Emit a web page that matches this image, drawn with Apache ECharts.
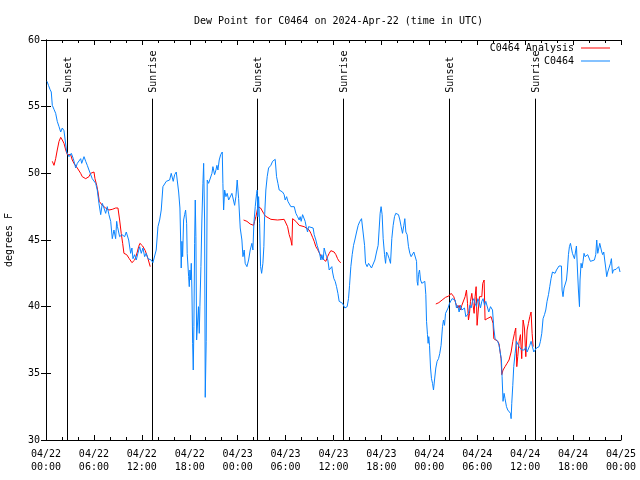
<!DOCTYPE html>
<html>
<head>
<meta charset="utf-8">
<script src="https://cdn.jsdelivr.net/npm/echarts@6/dist/echarts.min.js"></script>
<style>html,body{margin:0;padding:0;background:#fff}#c{width:640px;height:480px}</style>
</head>
<body>
<div id="c"></div>
<script>
// hours since 2024-04-22 00:00 UTC
const blueHours = [0.13,0.31,0.5,0.66,0.79,1.0,1.21,1.41,1.63,1.84,2.04,2.25,2.47,2.59,2.88,3.17,3.42,3.72,3.92,4.13,4.34,4.47,4.76,4.97,5.17,5.38,5.79,6.22,6.42,6.63,6.85,7.05,7.26,7.47,7.67,7.88,8.1,8.3,8.51,8.72,8.85,8.95,9.22,9.42,9.51,9.85,10.05,10.35,10.6,10.76,10.89,11.1,11.3,11.51,11.73,11.93,12.14,12.35,12.55,12.77,12.98,13.18,13.39,13.6,13.8,14.02,14.23,14.43,14.64,14.86,15.06,15.27,15.48,15.68,15.81,15.93,16.11,16.31,16.43,16.61,16.77,16.86,16.93,17.02,17.11,17.23,17.36,17.48,17.61,17.68,17.86,17.94,18.02,18.11,18.19,18.27,18.36,18.44,18.52,18.61,18.69,18.77,18.86,18.96,19.09,19.19,19.27,19.4,19.52,19.65,19.74,19.86,19.94,20.06,20.19,20.36,20.56,20.78,20.9,21.11,21.28,21.4,21.53,21.69,21.87,22.07,22.15,22.24,22.37,22.53,22.69,22.87,23.07,23.28,23.49,23.62,23.78,23.94,24.12,24.32,24.53,24.66,24.82,24.94,25.16,25.37,25.57,25.78,25.91,26.03,26.2,26.37,26.45,26.53,26.62,26.75,26.87,27.0,27.16,27.28,27.37,27.53,27.7,27.87,28.16,28.37,28.57,28.7,28.87,29.04,29.2,29.41,29.62,29.82,29.95,30.13,30.29,30.45,30.66,30.87,31.08,31.29,31.5,31.7,31.83,31.95,32.13,32.33,32.45,32.58,32.75,32.88,33.04,33.45,33.58,33.79,33.95,34.13,34.29,34.42,34.54,34.71,34.83,34.96,35.13,35.29,35.46,35.63,35.79,35.88,36.05,36.21,36.38,36.55,36.71,36.88,37.13,37.42,37.71,37.88,38.01,38.17,38.34,38.51,38.67,38.89,39.09,39.3,39.51,39.71,39.89,40.01,40.21,40.39,40.55,40.76,40.96,41.18,41.39,41.59,41.71,41.84,41.96,42.09,42.22,42.39,42.52,42.64,42.8,42.97,43.14,43.3,43.47,43.64,43.8,43.97,44.14,44.31,44.47,44.64,44.81,44.93,45.06,45.22,45.39,45.56,45.72,45.9,46.06,46.22,46.4,46.47,46.56,46.64,46.77,46.9,47.06,47.22,47.43,47.56,47.65,47.77,47.85,47.93,48.02,48.15,48.27,48.4,48.52,48.65,48.81,48.97,49.15,49.31,49.47,49.65,49.77,49.9,50.03,50.19,50.35,50.53,50.69,50.85,51.06,51.23,51.4,51.56,51.73,51.9,52.07,52.23,52.4,52.57,52.73,52.9,53.07,53.23,53.4,53.57,53.73,53.9,54.07,54.23,54.4,54.57,54.73,54.91,55.07,55.24,55.44,55.66,55.91,56.07,56.23,56.41,56.57,56.73,56.91,57.03,57.11,57.23,57.36,57.48,57.66,57.82,57.98,58.16,58.24,58.32,58.45,58.57,58.74,58.91,59.07,59.24,59.41,59.57,59.91,60.08,60.24,60.41,60.58,60.74,60.91,61.08,61.24,61.41,61.58,61.74,61.91,62.08,62.24,62.42,62.58,62.74,62.92,63.08,63.24,63.42,63.58,63.74,63.92,64.08,64.24,64.54,64.62,64.74,64.87,65.04,65.17,65.29,65.42,65.54,65.67,65.79,65.92,66.05,66.17,66.3,66.42,66.55,66.67,66.8,66.87,67.0,67.12,67.25,67.37,67.5,67.67,67.83,68.0,68.17,68.34,68.67,68.84,68.96,69.09,69.21,69.34,69.46,69.59,69.71,69.84,69.96,70.09,70.21,70.34,70.5,70.68,70.8,70.93,71.05,71.21,71.38,71.55,71.71,71.88];
const blueValues = [56.9,56.6,56.3,56.1,55.1,54.8,54.5,53.9,53.5,53.1,53.4,53.2,53.1,51.6,51.25,51.5,51.1,50.4,50.75,50.9,51.1,50.75,51.25,50.9,50.6,50.25,49.6,49.25,48.75,47.75,46.9,47.75,47.4,47.0,47.5,46.9,46.4,45.1,45.75,45.1,46.4,46.0,45.25,45.4,45.4,45.25,45.6,45.0,44.0,44.4,43.6,43.9,43.5,44.0,44.5,44.0,44.4,43.75,44.0,43.6,43.75,43.5,43.3,43.3,44.25,46.0,46.5,47.25,49.0,48.9,49.4,49.4,49.5,50.0,50.1,49.4,49.9,50.1,49.5,48.6,47.4,45.0,42.9,44.9,43.75,46.5,46.9,47.25,46.25,44.0,42.25,41.5,42.75,42.0,43.25,41.25,37.25,35.25,38.5,44.75,48.0,45.25,37.5,37.6,40.0,38.0,40.0,43.0,46.5,49.25,50.75,46.5,33.2,37.4,49.5,49.25,49.25,50.0,50.5,49.9,50.25,50.6,50.25,51.0,51.4,51.6,49.25,47.25,48.75,48.25,48.5,48.0,47.9,48.5,48.6,47.6,48.25,49.5,48.1,45.9,45.0,43.75,44.25,43.25,43.0,43.5,44.25,44.75,44.25,46.25,47.5,48.5,48.75,46.75,48.25,46.25,43.0,42.5,43.25,44.5,46.75,48.75,49.75,50.4,50.6,50.9,51.05,51.05,49.75,49.25,48.75,48.6,48.6,48.4,48.0,48.25,47.9,47.75,47.5,47.4,47.5,47.0,46.75,46.5,46.75,46.4,46.9,46.75,46.4,46.0,45.6,46.0,45.9,45.9,45.4,45.0,44.6,44.25,43.9,43.5,43.9,43.5,44.4,44.1,43.75,43.5,42.75,42.6,43.0,42.6,42.1,41.9,41.5,41.0,40.4,40.25,40.25,39.9,40.0,40.6,41.6,43.0,43.9,44.6,45.0,45.6,46.1,46.4,46.6,46.7,44.6,43.25,43.0,43.25,43.1,42.9,42.9,43.5,44.1,44.6,45.75,47.0,47.5,46.9,45.1,43.9,43.25,44.1,43.9,43.6,43.25,45.1,46.1,46.75,47.0,47.1,46.9,46.5,46.0,45.5,46.1,46.6,45.6,45.4,44.5,44.0,43.75,43.75,44.1,44.1,43.4,41.9,41.6,42.4,42.75,42.0,41.75,41.6,41.9,40.9,38.9,37.9,37.25,37.75,37.1,35.4,34.6,34.25,33.75,34.5,35.4,35.9,36.1,36.5,37.1,38.5,39.0,38.6,39.5,39.6,39.9,40.25,40.4,40.6,40.5,40.5,39.9,40.1,39.6,40.1,39.75,39.6,39.9,39.25,39.1,39.5,40.1,39.9,40.4,40.6,40.25,40.0,40.6,40.4,39.9,40.4,40.6,40.1,40.4,40.4,39.6,40.0,39.75,38.4,37.6,37.5,37.4,37.1,37.25,36.0,34.75,32.9,33.5,33.1,32.5,32.25,32.25,32.0,31.6,32.75,34.1,35.5,36.5,37.4,37.5,37.0,36.9,36.75,36.75,37.0,36.6,36.75,37.1,37.4,37.0,36.6,36.75,36.9,37.0,37.0,37.4,38.0,39.1,39.4,39.75,40.4,40.9,41.5,42.1,42.6,42.75,42.5,42.75,42.9,43.05,43.05,41.25,40.75,41.4,41.4,42.0,42.75,43.9,44.5,44.75,44.8,44.0,43.9,43.6,44.1,44.55,42.75,41.25,40.0,42.0,43.25,42.9,43.4,44.0,43.75,43.6,43.9,43.9,43.4,43.5,43.5,43.9,45.0,44.0,43.9,44.75,44.6,44.1,43.9,44.1,43.5,42.9,42.25,42.6,42.6,43.25,43.6,42.5,42.75,42.6,42.8,42.95,43.0,42.6];

const redHours = [0.79,1.0,1.21,1.41,1.63,1.84,2.04,2.25,2.47,2.67,2.88,3.09,3.29,3.5,3.72,3.92,4.13,4.34,4.54,4.76,4.97,5.17,5.38,5.59,5.79,6.01,6.13,6.35,6.51,6.67,6.85,7.05,7.26,7.47,7.67,7.88,8.1,8.3,8.72,9.01,9.22,9.42,9.6,9.76,9.92,10.1,10.26,10.43,10.6,10.76,10.93,11.1,11.26,11.43,11.6,11.76,11.93,12.1,12.27,12.43,12.6,12.77,12.93,13.05,
  18.9,
  24.74,25.16,25.37,25.57,25.78,26.0,26.12,26.28,26.41,26.53,26.87,27.03,27.25,27.45,27.66,28.16,28.99,29.82,30.04,30.25,30.45,30.66,30.79,30.88,31.08,31.29,31.5,31.7,31.91,32.33,32.54,32.95,33.17,33.38,33.58,33.79,34.0,34.21,34.42,34.63,34.83,35.04,35.26,35.46,35.67,35.88,36.08,36.3,36.51,36.71,36.92,
  42.9,
  48.81,49.19,49.6,50.03,50.44,50.73,50.9,51.06,51.23,51.4,51.56,51.73,51.9,52.07,52.32,52.48,52.65,52.78,52.9,53.03,53.15,53.32,53.48,53.61,53.73,53.86,53.98,54.11,54.28,54.57,54.69,54.86,54.98,55.24,55.48,55.73,55.98,56.07,56.32,56.57,56.73,56.91,56.98,57.07,57.23,57.48,57.73,57.98,58.24,58.45,58.66,58.82,58.95,59.07,59.24,59.41,59.57,59.74,59.91,60.08,60.24,60.41,60.58,60.74,60.87,61.0];
const redValues = [50.9,50.6,51.1,51.75,52.4,52.7,52.5,52.25,51.75,51.4,51.25,51.4,51.0,50.75,50.6,50.4,50.25,50.0,49.75,49.6,49.6,49.75,49.75,50.0,50.1,50.1,49.6,49.1,48.6,47.9,47.75,47.6,47.5,47.4,47.25,47.25,47.25,47.3,47.4,47.4,46.5,45.5,44.75,44.0,43.9,43.9,43.75,43.6,43.45,43.3,43.3,43.5,43.75,44.1,44.5,44.75,44.75,44.55,44.4,44.2,43.9,43.6,43.5,43.0,
  null,
  46.5,46.4,46.3,46.2,46.1,46.1,46.4,46.75,47.1,47.5,47.4,47.25,47.0,46.8,46.65,46.55,46.5,46.55,46.5,46.0,45.4,45.0,44.6,46.6,46.5,46.4,46.25,46.1,46.05,46.0,45.9,45.75,45.5,45.2,44.9,44.5,44.3,44.05,43.8,43.6,43.5,43.4,43.75,44.0,44.2,44.3,44.1,43.9,43.6,43.4,43.3,
  null,
  40.2,40.3,40.5,40.7,40.8,41.0,41.0,40.75,40.4,40.1,39.9,40.1,39.75,40.1,40.25,40.75,41.25,40.25,39.0,39.5,40.4,41.0,40.1,39.5,40.75,41.5,38.6,39.6,40.75,40.75,41.75,42.0,39.0,39.1,39.25,39.25,38.75,37.6,37.5,37.4,37.2,37.25,36.1,34.9,35.25,35.5,35.75,36.0,36.6,37.4,38.0,38.4,35.5,36.25,37.4,37.9,36.1,39.0,38.4,36.25,38.25,38.75,39.25,39.6,38.0,37.0];

const sunHours = [2.59, 13.3, 26.45, 37.22, 50.47, 61.24];
const sunNames = ['Sunset', 'Sunrise', 'Sunset', 'Sunrise', 'Sunset', 'Sunrise'];

const xTickDates = ['04/22', '04/23', '04/24', '04/25'];

const FONT = 'DejaVu Sans Mono';
const zip = (a, b) => a.map((h, i) => [h, b[i]]);

const chart = echarts.init(document.getElementById('c'), null, {renderer: 'canvas'});

function xLabel(v) {
  const d = Math.floor(v / 24 + 1e-6);
  const hh = Math.round(v - d * 24);
  return xTickDates[d] + '\n' + (hh < 10 ? '0' : '') + hh + ':00';
}

const axisCommon = {
  axisLine: {show: true, lineStyle: {color: '#000', width: 1}},
  splitLine: {show: false},
};

const legendCommon = {
  orient: 'vertical', align: 'right', icon: 'rect', itemWidth: 29, itemHeight: 1,
  padding: 0, right: 30, selectedMode: false,
  textStyle: {fontFamily: FONT, fontSize: 10, color: '#000', padding: [0, 2, 0, 0]}
};

chart.setOption({
  animation: false,
  backgroundColor: '#fff',
  title: {
    text: 'Dew Point for C0464 on 2024-Apr-22 (time in UTC)',
    left: 189, top: 11,
    textStyle: {fontFamily: FONT, fontSize: 10, fontWeight: 'normal', color: '#000'}
  },
  legend: [
    Object.assign({}, legendCommon, {data: ['C0464 Analysis'], top: 43}),
    Object.assign({}, legendCommon, {data: ['C0464'], top: 56})
  ],
  grid: {left: 46, right: 19, top: 40, bottom: 40, outerBoundsMode: 'none'},
  xAxis: [
    Object.assign({}, axisCommon, {
      type: 'value', min: 0, max: 72, interval: 6, position: 'bottom',
      axisTick: {show: true, inside: true, length: 5, lineStyle: {color: '#000'}},
      minorTick: {show: true, splitNumber: 3, length: 3, lineStyle: {color: '#000'}},
      axisLabel: {formatter: xLabel, fontFamily: FONT, fontSize: 10, color: '#000', margin: 8, lineHeight: 13}
    }),
    Object.assign({}, axisCommon, {
      type: 'value', min: 0, max: 72, interval: 6, position: 'top',
      axisTick: {show: true, inside: true, length: 5, lineStyle: {color: '#000'}},
      minorTick: {show: true, splitNumber: 3, length: 3, lineStyle: {color: '#000'}},
      axisLabel: {show: false}
    })
  ],
  yAxis: [
    Object.assign({}, axisCommon, {
      type: 'value', min: 30, max: 60, interval: 5, position: 'left',
      name: 'degrees F', nameLocation: 'middle', nameGap: 32, nameRotate: 90,
      nameTextStyle: {fontFamily: FONT, fontSize: 10, color: '#000'},
      axisTick: {show: true, inside: true, length: 5, lineStyle: {color: '#000'}},
      axisLabel: {fontFamily: FONT, fontSize: 10, color: '#000', margin: 6}
    }),
    Object.assign({}, axisCommon, {
      type: 'value', min: 30, max: 60, interval: 5, position: 'right',
      axisTick: {show: true, inside: true, length: 5, lineStyle: {color: '#000'}},
      axisLabel: {show: false}
    })
  ],
  series: [
    {
      name: 'C0464 Analysis', type: 'line', xAxisIndex: 0, yAxisIndex: 0,
      data: zip(redHours, redValues), showSymbol: false, connectNulls: false,
      lineStyle: {color: '#ff0000', width: 1}, itemStyle: {color: '#ff0000'}
    },
    {
      name: 'C0464', type: 'line', xAxisIndex: 0, yAxisIndex: 0,
      data: zip(blueHours, blueValues), showSymbol: false,
      lineStyle: {color: '#0a84ff', width: 1}, itemStyle: {color: '#0a84ff'}
    },
    {
      name: 'sun', type: 'custom', xAxisIndex: 0, yAxisIndex: 0,
      data: sunHours.map(h => [h]),
      encode: {x: 0},
      renderItem: function (params, api) {
        const x = Math.round(api.coord([api.value(0), 30])[0]) + 0.5;
        const yBottom = api.coord([0, 30])[1];
        const yTop = api.coord([0, 55.6])[1];
        return {
          type: 'group',
          children: [
            {type: 'line', shape: {x1: x, y1: yTop, x2: x, y2: yBottom},
             style: {stroke: '#000', lineWidth: 1}},
            {type: 'text', x: x + 1, y: yTop - 6, rotation: Math.PI / 2,
             style: {text: sunNames[params.dataIndex], fill: '#000',
                     font: '10px ' + FONT, align: 'left', verticalAlign: 'middle'}}
          ]
        };
      }
    }
  ]
});
</script>
</body>
</html>
